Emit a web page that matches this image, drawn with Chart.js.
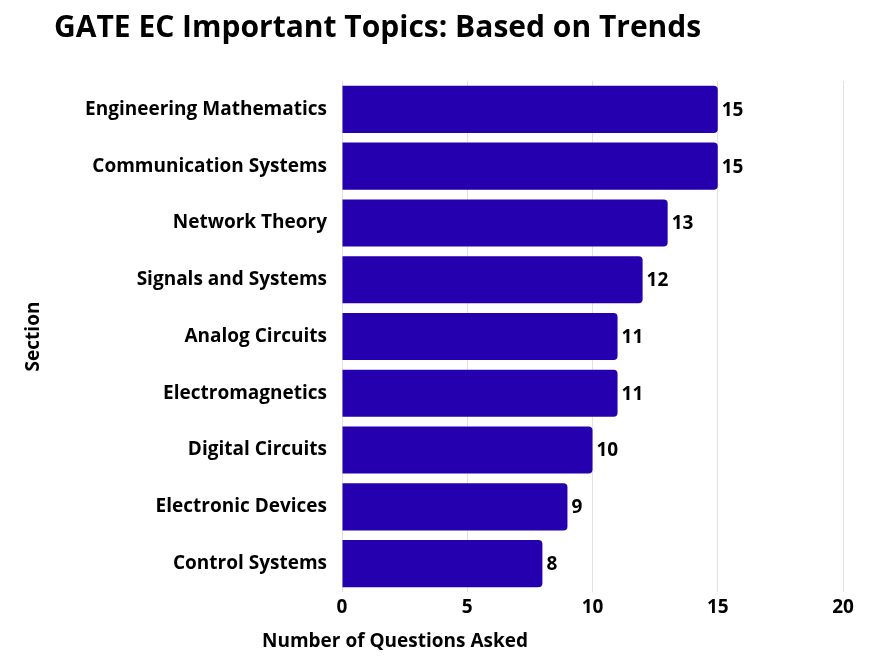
<!DOCTYPE html>
<html>
<head>
<meta charset="utf-8">
<script src="https://cdn.jsdelivr.net/npm/chart.js@4.4.1/dist/chart.umd.min.js"></script>
<style>
  html, body { margin: 0; padding: 0; background: #ffffff; }
  #wrap { width: 895px; height: 665px; position: relative; }
</style>
</head>
<body>
<div id="wrap"><canvas id="c" width="895" height="665"></canvas></div>
<script>
const chartTitle = "GATE EC Important Topics: Based on Trends";
const xAxisTitle = "Number of Questions Asked";
const yAxisTitle = "Section";
const categories = [
  "Engineering Mathematics",
  "Communication Systems",
  "Network Theory",
  "Signals and Systems",
  "Analog Circuits",
  "Electromagnetics",
  "Digital Circuits",
  "Electronic Devices",
  "Control Systems"
];
const questionCounts = [15, 15, 13, 12, 11, 11, 10, 9, 8];
const xTickValues = [0, 5, 10, 15, 20];

const FONT = "'Open Sans', 'Noto Sans', sans-serif";

const overlayPlugin = {
  id: 'overlay',
  afterDraw(chart) {
    const ctx = chart.ctx;
    ctx.save();
    const meta = chart.getDatasetMeta(0);
    ctx.fillStyle = '#000000';
    ctx.font = "bold 19px " + FONT;
    ctx.textAlign = 'left';
    ctx.textBaseline = 'middle';
    meta.data.forEach((bar, i) => {
      ctx.fillText(String(questionCounts[i]), bar.x + 4, bar.y + 1);
    });
    ctx.font = "bold 30px " + FONT;
    ctx.fillText(chartTitle, 54, 28);
    ctx.font = "bold 19px " + FONT;
    ctx.textAlign = 'center';
    ctx.fillText(xAxisTitle, 395, 642);
    ctx.restore();
  }
};

new Chart(document.getElementById('c'), {
  type: 'bar',
  data: {
    labels: categories,
    datasets: [{
      data: questionCounts,
      backgroundColor: '#2500AE',
      borderRadius: 4,
      borderSkipped: 'start',
      categoryPercentage: 1.0,
      barPercentage: 0.83
    }]
  },
  options: {
    indexAxis: 'y',
    responsive: false,
    animation: false,
    devicePixelRatio: 1,
    layout: { padding: { top: 81, right: 52, bottom: 0, left: 0 } },
    plugins: {
      legend: { display: false },
      tooltip: { enabled: false },
      title: { display: false }
    },
    scales: {
      x: {
        type: 'linear',
        min: 0,
        max: 20,
        afterBuildTicks(scale) { scale.ticks = xTickValues.map(v => ({ value: v })); },
        afterFit(scale) { scale.height = 665 - 592; },
        border: { display: false },
        grid: { color: '#e2e2e2', lineWidth: 1, drawTicks: false },
        ticks: {
          padding: 4,
          color: '#000000',
          font: { family: FONT, size: 19, weight: 'bold' }
        }
      },
      y: {
        afterFit(scale) { scale.width = 342; },
        border: { display: false },
        grid: { display: false, drawTicks: false },
        ticks: {
          padding: 15,
          color: '#000000',
          font: { family: FONT, size: 19, weight: 'bold' }
        },
        title: {
          display: true,
          text: yAxisTitle,
          color: '#000000',
          padding: { top: 22, bottom: 0 },
          font: { family: FONT, size: 19, weight: 'bold' }
        }
      }
    }
  },
  plugins: [overlayPlugin]
});
</script>
</body>
</html>
